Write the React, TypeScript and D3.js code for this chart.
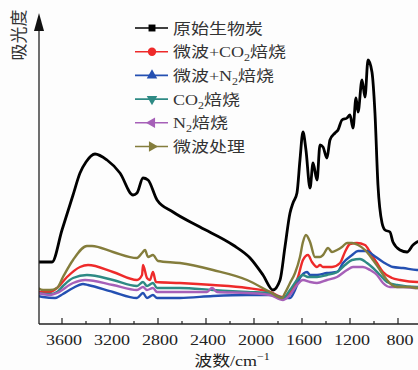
import React from 'react';
import * as d3 from 'd3';

// wavenumber (cm-1) / absorbance (a.u.) pairs
const rawBiochar: [number, number][] = [
  [3800, 62], [3683, 62], [3600, 94], [3508, 129], [3450, 151], [3400, 162], [3325, 170],
  [3225, 164], [3117, 151], [3008, 129], [2975, 131], [2925, 146], [2883, 144], [2808, 124],
  [2675, 112], [2450, 97], [2175, 79], [2033, 66], [1925, 49], [1842, 34], [1783, 44],
  [1742, 77], [1700, 111], [1675, 121], [1642, 131], [1617, 164], [1592, 192], [1567, 174],
  [1533, 136], [1508, 161], [1475, 144], [1450, 179], [1425, 177], [1392, 166], [1367, 184],
  [1325, 191], [1300, 194], [1267, 204], [1225, 206], [1200, 209], [1175, 196], [1150, 226],
  [1133, 212], [1100, 244], [1075, 227], [1050, 264], [1017, 252], [992, 211], [967, 139],
  [933, 101], [908, 94], [867, 92], [842, 82], [783, 74], [725, 72], [675, 79], [642, 82],
  [600, 84],
];

const mwCO2: [number, number][] = [
  [3800, 32], [3700, 32], [3642, 36], [3558, 47], [3450, 57], [3383, 59], [3175, 52],
  [2975, 44], [2933, 49], [2925, 59], [2892, 46], [2867, 44], [2842, 52], [2817, 42],
  [2617, 41], [2342, 39], [2058, 36], [1867, 32], [1758, 27], [1700, 31], [1633, 47],
  [1592, 64], [1550, 69], [1517, 62], [1475, 57], [1450, 59], [1425, 57], [1350, 57],
  [1283, 61], [1242, 72], [1200, 80], [1142, 81], [1075, 79], [1033, 72], [975, 61],
  [925, 52], [850, 46], [783, 44], [642, 42], [600, 42],
];

const mwN2: [number, number][] = [
  [3800, 28], [3758, 27], [3658, 26], [3592, 30], [3508, 36], [3425, 40], [3383, 39],
  [3175, 32], [2975, 26], [2925, 31], [2892, 26], [2842, 29], [2808, 26], [2617, 26],
  [2342, 28], [2058, 29], [1867, 29], [1758, 26], [1700, 26], [1658, 34], [1617, 46],
  [1558, 52], [1533, 49], [1475, 49], [1392, 51], [1308, 52], [1258, 61], [1183, 69],
  [1133, 73], [1058, 73], [1008, 69], [925, 62], [842, 57], [758, 56], [642, 54], [600, 54],
];

const roastCO2: [number, number][] = [
  [3800, 31], [3700, 30], [3642, 32], [3592, 38], [3508, 46], [3392, 49], [3175, 44],
  [2975, 38], [2925, 42], [2892, 38], [2842, 41], [2808, 36], [2617, 36], [2342, 34],
  [2058, 32], [1867, 31], [1758, 26], [1700, 34], [1642, 44], [1592, 49], [1550, 47],
  [1475, 47], [1392, 49], [1308, 52], [1242, 59], [1183, 64], [1117, 65], [1058, 61],
  [1008, 56], [950, 49], [892, 42], [808, 39], [642, 37], [600, 37],
];

const roastN2: [number, number][] = [
  [3800, 31], [3700, 29], [3642, 31], [3508, 41], [3408, 44], [3175, 39], [2975, 34],
  [2925, 37], [2892, 34], [2842, 36], [2808, 32], [2617, 32], [2392, 32], [2350, 36],
  [2308, 32], [2058, 31], [1867, 29], [1758, 24], [1700, 29], [1642, 39], [1592, 44],
  [1533, 42], [1475, 41], [1392, 44], [1308, 47], [1225, 54], [1175, 57], [1092, 57],
  [1033, 54], [975, 49], [925, 41], [867, 37], [758, 37], [642, 36], [600, 36],
];

const mwOnly: [number, number][] = [
  [3800, 36], [3758, 34], [3700, 34], [3642, 36], [3592, 47], [3508, 64], [3392, 78],
  [3350, 78], [3175, 72], [2975, 66], [2933, 71], [2908, 74], [2883, 67], [2842, 69],
  [2800, 63], [2617, 61], [2342, 54], [2058, 44], [1867, 32], [1767, 26], [1742, 31],
  [1700, 41], [1658, 51], [1617, 67], [1592, 82], [1567, 89], [1533, 82], [1492, 67],
  [1450, 67], [1425, 69], [1383, 76], [1350, 72], [1308, 74], [1267, 77], [1225, 81],
  [1183, 81], [1133, 79], [1075, 74], [1008, 64], [950, 54], [892, 44], [850, 39],
  [808, 37], [700, 37], [642, 36], [600, 36],
];

const seriesNames = ['原始生物炭', '微波+CO2焙烧', '微波+N2焙烧', 'CO2焙烧', 'N2焙烧', '微波处理'];
const seriesData = [rawBiochar, mwCO2, mwN2, roastCO2, roastN2, mwOnly];
const seriesColors = ['#000000', '#ee2a2a', '#2450b2', '#2e8a84', '#a660b8', '#847d3c'];
const xTicks = [3600, 3200, 2800, 2400, 2000, 1600, 1200, 800];
const minorTicks = [3400, 3000, 2600, 2200, 1800, 1400, 1000];

const W = 418;
const H = 370;
const axisX = 39;
const axisY = 324;

const serif = '"Liberation Serif", "Times New Roman", "Noto Sans CJK SC", serif';

// split "CO2" style names so the 2 becomes a subscript
const renderName = (name: string) => {
  const parts = name.split(/(?<=[ON])2/);
  const out: React.ReactNode[] = [];
  parts.forEach((p, i) => {
    if (i === 0) {
      out.push(<tspan key={'t' + i}>{p}</tspan>);
    } else {
      out.push(
        <tspan key={'s' + i} fontSize={10} dy={4}>2</tspan>,
        <tspan key={'t' + i} dy={-4}>{p}</tspan>
      );
    }
  });
  return out;
};

const symbols = [
  { type: d3.symbolSquare, rot: 0 },
  { type: d3.symbolCircle, rot: 0 },
  { type: d3.symbolTriangle, rot: 0 },
  { type: d3.symbolTriangle, rot: 180 },
  { type: d3.symbolTriangle, rot: -90 },
  { type: d3.symbolTriangle, rot: 90 },
];

export default function App() {
  const x = d3.scaleLinear().domain([3800, 600]).range([38, 422]);
  const y = d3.scaleLinear().domain([0, 311]).range([axisY, 13]);

  const line = d3
    .line<[number, number]>()
    .x((d) => x(d[0]))
    .y((d) => y(d[1]))
    .curve(d3.curveMonotoneX);

  return (
    <svg
      width={W}
      height={H}
      style={{ position: 'absolute', left: 0, top: 0, background: '#fdfdfd' }}
    >
      <defs>
        <clipPath id="plot">
          <rect x={axisX} y={0} width={W - axisX} height={axisY} />
        </clipPath>
      </defs>

      <g clipPath="url(#plot)">
        {seriesData.map((s, i) => (
          <path
            key={i}
            d={line(s) || ''}
            fill="none"
            stroke={seriesColors[i]}
            strokeWidth={i === 0 ? 2.8 : 2.4}
            strokeLinejoin="round"
          />
        ))}
      </g>

      {/* axes */}
      <line x1={axisX} x2={W} y1={axisY} y2={axisY} stroke="#222" strokeWidth={1.3} />
      <line x1={axisX} x2={axisX} y1={axisY} y2={24} stroke="#222" strokeWidth={1.3} />
      <path d={`M${axisX},13 L${axisX - 5},31 L${axisX + 5},31 Z`} fill="#111" />

      {xTicks.map((t) => (
        <g key={t}>
          <line x1={x(t)} x2={x(t)} y1={axisY} y2={axisY - 6} stroke="#222" strokeWidth={1.2} />
          <text
            transform={`translate(${x(t) + 2},345) scale(1.2,1)`}
            textAnchor="middle"
            fontFamily={serif}
            fontSize={15}
            fill="#222"
          >
            {t}
          </text>
        </g>
      ))}
      {minorTicks.map((t) => (
        <line key={t} x1={x(t)} x2={x(t)} y1={axisY} y2={axisY - 3} stroke="#222" strokeWidth={1.2} />
      ))}

      <text
        transform="translate(232,366) scale(1.2,1)"
        textAnchor="middle"
        fontFamily={serif}
        fontSize={15}
        fill="#222"
      >
        波数/cm<tspan fontSize={10} dy={-6}>−1</tspan>
      </text>

      <text
        transform="translate(25,35) rotate(-90)"
        textAnchor="middle"
        fontFamily={serif}
        fontSize={17}
        fill="#333"
      >
        吸光度
      </text>

      {/* legend */}
      {seriesNames.map((name, i) => {
        const cy = 28 + i * 23.7;
        const sym = d3.symbol().type(symbols[i].type).size(i === 1 ? 55 : 48);
        return (
          <g key={name}>
            <line x1={135} x2={168} y1={cy} y2={cy} stroke={seriesColors[i]} strokeWidth={1.6} />
            <path
              d={sym() || ''}
              transform={`translate(152,${cy}) rotate(${symbols[i].rot})`}
              fill={seriesColors[i]}
            />
            <text
              transform={`translate(173,${cy + 5.5}) scale(1.2,1)`}
              fontFamily={serif}
              fontSize={15}
              fill="#333"
            >
              {renderName(name)}
            </text>
          </g>
        );
      })}
    </svg>
  );
}
